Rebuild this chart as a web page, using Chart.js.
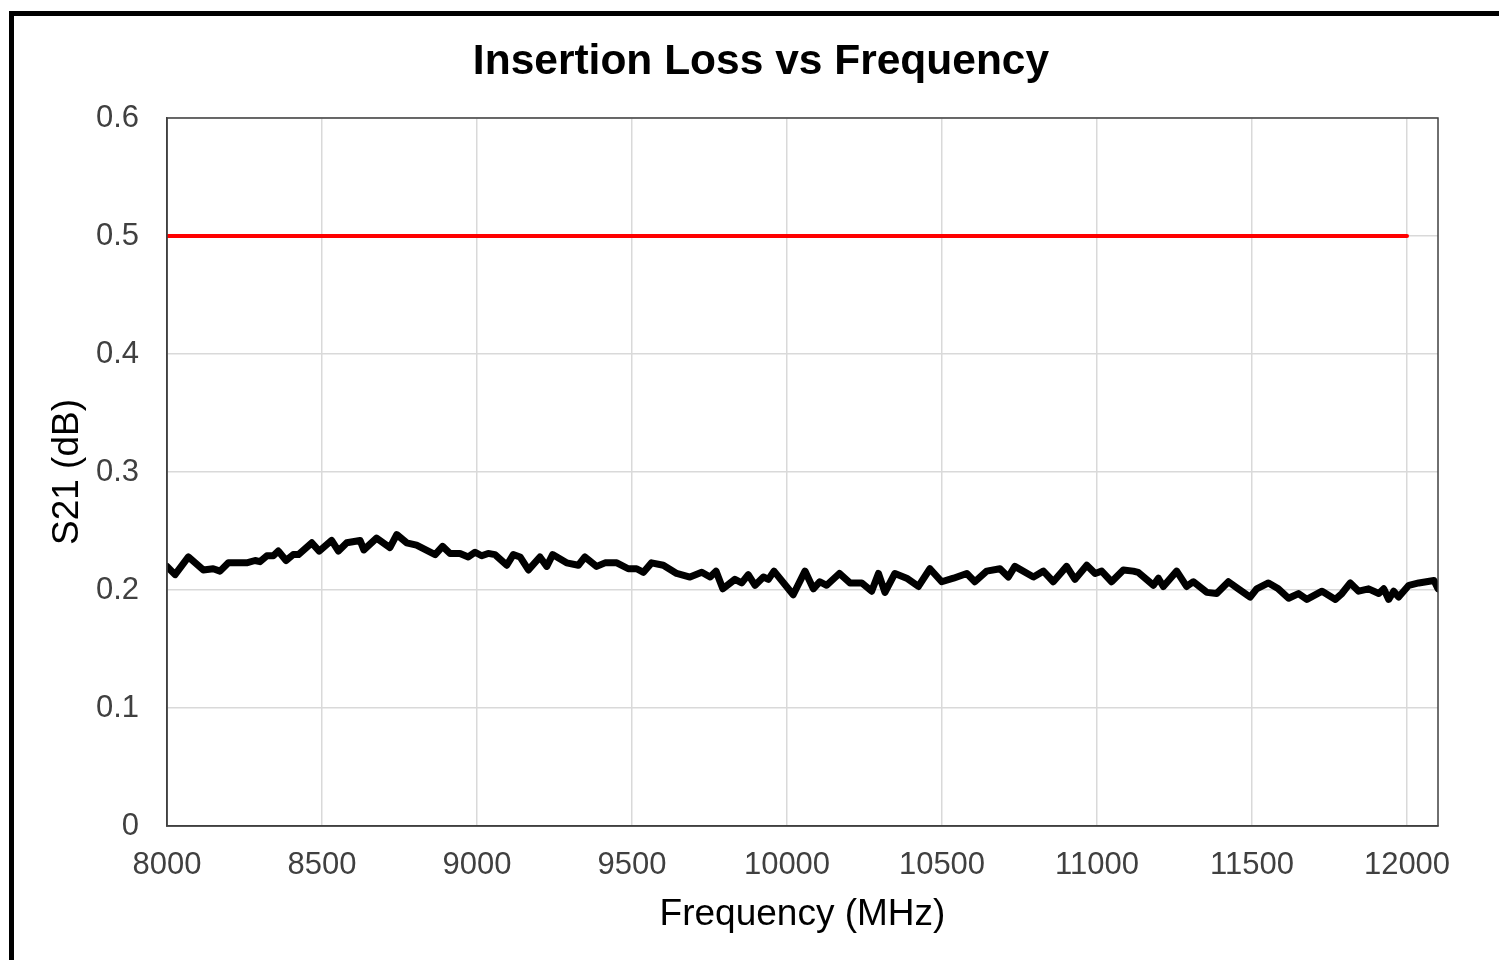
<!DOCTYPE html>
<html>
<head>
<meta charset="utf-8">
<script src="https://cdn.jsdelivr.net/npm/chart.js@4.4.0/dist/chart.umd.min.js"></script>
<style>
  body { margin: 0; background: #fff; }
  #myChart { display: block; }
</style>
</head>
<body>
<canvas id="myChart" width="1499" height="960"></canvas>
<script>
var freqMHz = [8000,8026,8069,8117,8149,8171,8198,8257,8284,8300,8322,8343,8359,8384,8407,8424,8467,8491,8531,8553,
  8580,8623,8635,8676,8719,8741,8773,8805,8865,8889,8913,8945,8972,8994,9015,9036,9058,9096,9117,9139,
  9166,9203,9225,9244,9289,9327,9348,9386,9413,9451,9488,9515,9537,9563,9601,9644,9687,9725,9752,9771,
  9793,9832,9854,9875,9897,9924,9940,9958,10020,10058,10085,10106,10128,10169,10203,10241,10273,10295,10316,10348,
  10386,10424,10461,10499,10537,10580,10606,10644,10687,10714,10735,10795,10827,10859,10902,10929,10967,10994,11015,11047,
  11085,11117,11133,11182,11198,11214,11257,11289,11311,11354,11386,11424,11456,11494,11515,11553,11585,11618,11650,11677,
  11726,11769,11790,11817,11844,11876,11909,11925,11941,11957,11973,12006,12038,12087,12100];
var s21 = [0.220,0.213,0.228,0.217,0.218,0.216,0.223,0.223,0.225,0.224,0.229,0.229,0.233,0.225,0.230,0.230,0.240,0.233,0.242,0.233,
  0.240,0.242,0.234,0.244,0.236,0.247,0.240,0.238,0.230,0.237,0.231,0.231,0.228,0.232,0.229,0.231,0.230,0.221,0.230,0.228,
  0.217,0.228,0.220,0.230,0.223,0.221,0.228,0.220,0.223,0.223,0.218,0.218,0.215,0.223,0.221,0.214,0.211,0.215,0.211,0.216,
  0.201,0.209,0.206,0.213,0.204,0.211,0.209,0.216,0.196,0.216,0.201,0.207,0.204,0.214,0.206,0.206,0.199,0.214,0.198,0.214,
  0.210,0.203,0.218,0.207,0.210,0.214,0.207,0.216,0.218,0.211,0.220,0.211,0.216,0.207,0.220,0.209,0.221,0.214,0.216,0.207,
  0.217,0.216,0.215,0.204,0.210,0.203,0.216,0.203,0.207,0.198,0.197,0.207,0.201,0.194,0.201,0.206,0.201,0.193,0.197,0.192,
  0.199,0.192,0.197,0.206,0.199,0.201,0.197,0.201,0.192,0.199,0.194,0.204,0.206,0.208,0.201];

// spec limit line
var limitFreq = [8000, 12000];
var limitValue = [0.5, 0.5];

// axis ticks
var xTicks = [8000, 8500, 9000, 9500, 10000, 10500, 11000, 11500, 12000];
var yTicks = [0, 0.1, 0.2, 0.3, 0.4, 0.5, 0.6];
var xMin = 8000, xMax = 12100;

function toPoints(xs, ys) {
  return xs.map(function (x, i) { return { x: x, y: ys[i] }; });
}

var fontFamily = 'Liberation Sans, Arial, sans-serif';

// outer frame + plot box border
var framePlugin = {
  id: 'frame',
  beforeDraw: function (chart) {
    var c = chart.ctx;
    c.save();
    c.fillStyle = '#000';
    c.fillRect(9, 11, 5, 960);
    c.fillRect(9, 11, 1490, 5);
    c.restore();
  },
  afterDatasetsDraw: function (chart) {
    var a = chart.chartArea;
    var c = chart.ctx;
    c.save();
    c.strokeStyle = '#404040';
    c.lineWidth = 1.5;
    c.strokeRect(a.left, a.top, a.right - a.left, a.bottom - a.top);
    c.restore();
  }
};

var ctx = document.getElementById('myChart').getContext('2d');
var myChart = new Chart(ctx, {
  type: 'scatter',
  data: {
    datasets: [{
      label: 'S21',
      data: toPoints(freqMHz, s21),
      showLine: true,
      borderColor: '#000000',
      borderWidth: 7,
      borderJoinStyle: 'round',
      borderCapStyle: 'round',
      pointRadius: 0,
      tension: 0
    }, {
      label: 'Limit',
      data: toPoints(limitFreq, limitValue),
      showLine: true,
      borderColor: '#ff0000',
      borderWidth: 4,
      borderCapStyle: 'round',
      pointRadius: 0
    }]
  },
  options: {
    responsive: false,
    animation: false,
    layout: { padding: { left: 23, right: 0, top: 0, bottom: 0 } },
    plugins: {
      legend: { display: false },
      tooltip: { enabled: false },
      title: {
        display: true,
        text: 'Insertion Loss vs Frequency',
        color: '#000',
        font: { family: fontFamily, size: 42.5, weight: 'bold' },
        padding: { top: 37, bottom: 30 }
      }
    },
    scales: {
      x: {
        type: 'linear',
        min: xMin,
        max: xMax,
        afterFit: function (s) { s.height = 134; },
        afterBuildTicks: function (s) {
          s.ticks = xTicks.map(function (v) { return { value: v }; });
        },
        ticks: {
          maxRotation: 0,
          autoSkip: false,
          padding: 21,
          color: '#404040',
          font: { family: fontFamily, size: 31 },
          callback: function (v) { return String(v); }
        },
        grid: { color: '#d9d9d9', lineWidth: 1.5, drawTicks: false },
        border: { color: '#404040', width: 1.5 },
        title: {
          display: true,
          text: 'Frequency (MHz)',
          color: '#000',
          font: { family: fontFamily, size: 37 },
          padding: { top: 0, bottom: 23 }
        }
      },
      y: {
        min: yTicks[0],
        max: yTicks[yTicks.length - 1],
        afterFit: function (s) { s.width = 144; },
        afterBuildTicks: function (s) {
          s.ticks = yTicks.map(function (v) { return { value: v }; });
        },
        ticks: {
          padding: 28,
          color: '#404040',
          font: { family: fontFamily, size: 31 },
          callback: function (v) { return String(v); }
        },
        grid: { color: '#d9d9d9', lineWidth: 1.5, drawTicks: false },
        border: { color: '#404040', width: 1.5 },
        title: {
          display: true,
          text: 'S21 (dB)',
          color: '#000',
          font: { family: fontFamily, size: 37 },
          padding: { top: 23, bottom: 0 }
        }
      },
      // empty right-hand axis, only reserves space
      yRight: {
        position: 'right',
        display: true,
        afterFit: function (s) { s.width = 61; },
        ticks: { display: false },
        grid: { display: false, drawTicks: false },
        border: { display: false }
      }
    }
  },
  plugins: [framePlugin]
});
</script>
</body>
</html>
